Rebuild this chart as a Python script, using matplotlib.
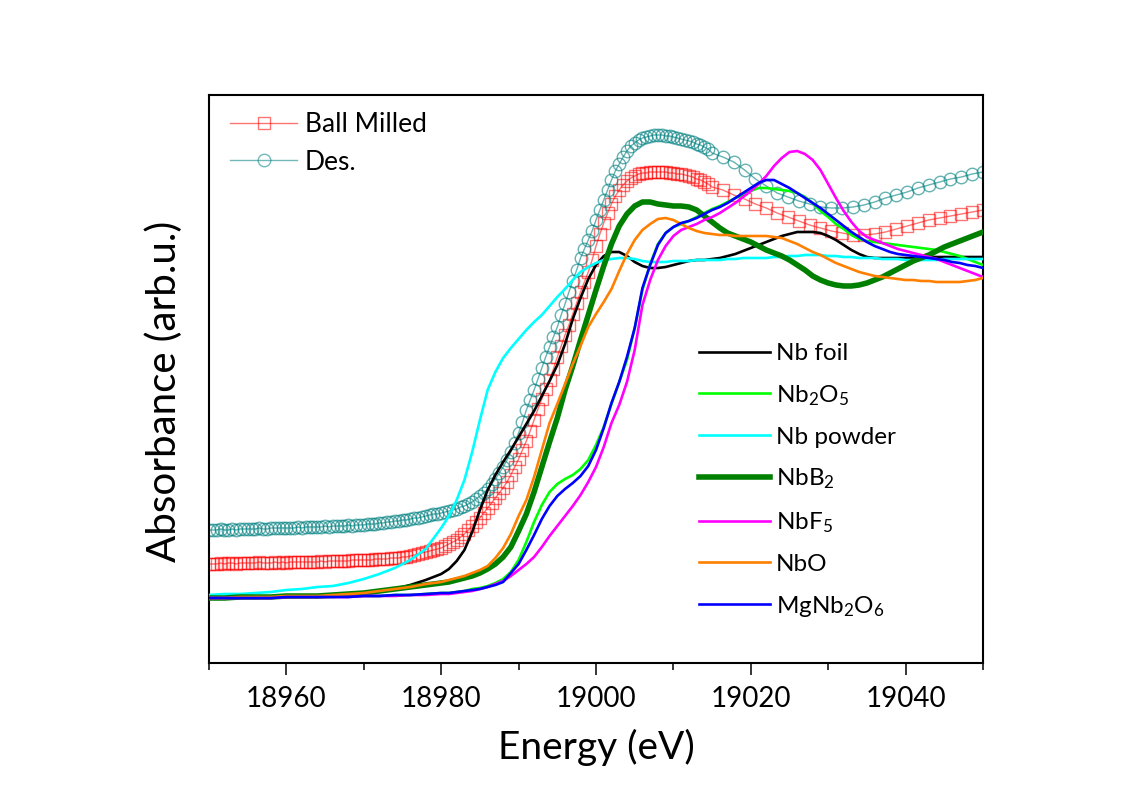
import matplotlib
matplotlib.use('Agg')
import matplotlib.pyplot as plt
import numpy as np
from matplotlib.ticker import MultipleLocator

# energy grids (eV)
energy_lines = np.concatenate([np.arange(18950, 18981, 2), np.arange(18981, 19051)])
energy_mark = np.concatenate([np.arange(18950, 19015, 0.5), 19015 + 1.4 * np.arange(26)])

# ---- sample spectra (offset for clarity) ----
ball_milled = [
    0.34, 0.34, 0.34, 0.35, 0.34, 0.35, 0.35, 0.34, 0.35, 0.35,
    0.35, 0.35, 0.35, 0.36, 0.35, 0.35, 0.35, 0.36, 0.35, 0.36,
    0.35, 0.36, 0.36, 0.36, 0.36, 0.36, 0.36, 0.36, 0.36, 0.37,
    0.36, 0.37, 0.37, 0.37, 0.37, 0.37, 0.37, 0.38, 0.38, 0.38,
    0.38, 0.38, 0.38, 0.39, 0.39, 0.39, 0.39, 0.40, 0.40, 0.40,
    0.41, 0.41, 0.42, 0.43, 0.44, 0.45, 0.46, 0.47, 0.48, 0.49,
    0.50, 0.52, 0.54, 0.56, 0.58, 0.61, 0.64, 0.68, 0.72, 0.76,
    0.80, 0.85, 0.90, 0.95, 1.00, 1.05, 1.10, 1.16, 1.23, 1.31,
    1.39, 1.48, 1.57, 1.67, 1.78, 1.89, 1.99, 2.09, 2.18, 2.29,
    2.41, 2.52, 2.63, 2.73, 2.84, 2.95, 3.06, 3.16, 3.26, 3.38,
    3.52, 3.64, 3.75, 3.85, 3.94, 4.02, 4.08, 4.13, 4.17, 4.20,
    4.22, 4.24, 4.25, 4.25, 4.26, 4.26, 4.26, 4.26, 4.26, 4.25,
    4.25, 4.24, 4.24, 4.23, 4.22, 4.21, 4.19, 4.18, 4.16, 4.14,
    4.11, 4.08, 4.03, 3.99, 3.94, 3.90, 3.85, 3.81, 3.77, 3.73,
    3.70, 3.67, 3.65, 3.63, 3.63, 3.64, 3.66, 3.69, 3.72, 3.75,
    3.78, 3.80, 3.82, 3.84, 3.86, 3.88,
]
des = [
    0.68, 0.68, 0.68, 0.69, 0.68, 0.68, 0.69, 0.68, 0.69, 0.69,
    0.69, 0.69, 0.69, 0.70, 0.69, 0.69, 0.70, 0.70, 0.70, 0.70,
    0.70, 0.70, 0.70, 0.71, 0.70, 0.71, 0.71, 0.71, 0.71, 0.71,
    0.72, 0.71, 0.72, 0.72, 0.72, 0.72, 0.73, 0.72, 0.73, 0.73,
    0.73, 0.74, 0.74, 0.74, 0.75, 0.75, 0.76, 0.76, 0.77, 0.77,
    0.78, 0.78, 0.79, 0.80, 0.80, 0.81, 0.82, 0.83, 0.84, 0.84,
    0.85, 0.86, 0.87, 0.88, 0.89, 0.91, 0.92, 0.94, 0.96, 0.99,
    1.02, 1.05, 1.09, 1.14, 1.19, 1.25, 1.31, 1.38, 1.46, 1.55,
    1.65, 1.76, 1.88, 1.98, 2.08, 2.19, 2.30, 2.41, 2.51, 2.61,
    2.71, 2.83, 2.94, 3.06, 3.17, 3.28, 3.40, 3.49, 3.58, 3.67,
    3.78, 3.88, 3.98, 4.08, 4.18, 4.27, 4.34, 4.41, 4.47, 4.52,
    4.55, 4.58, 4.60, 4.61, 4.62, 4.63, 4.63, 4.63, 4.62, 4.62,
    4.61, 4.60, 4.59, 4.58, 4.57, 4.56, 4.54, 4.53, 4.51, 4.49,
    4.45, 4.41, 4.36, 4.28, 4.19, 4.12, 4.05, 4.01, 3.97, 3.94,
    3.91, 3.90, 3.90, 3.91, 3.93, 3.96, 4.00, 4.03, 4.06, 4.10,
    4.13, 4.16, 4.19, 4.21, 4.24, 4.26,
]

# ---- reference spectra ----
nb_foil = [
    0.00, 0.00, 0.00, 0.01, 0.01, 0.01, 0.02, 0.02, 0.03, 0.04, 0.05, 0.07, 0.09, 0.13, 0.18, 0.24,
    0.29, 0.37, 0.48, 0.66, 0.88, 1.08, 1.23, 1.36, 1.48, 1.61,
    1.74, 1.87, 2.02, 2.17, 2.33, 2.54, 2.79, 3.00, 3.19, 3.33,
    3.42, 3.46, 3.46, 3.42, 3.36, 3.32, 3.30, 3.30, 3.31, 3.33,
    3.35, 3.37, 3.38, 3.38, 3.39, 3.40, 3.42, 3.44, 3.47, 3.50,
    3.53, 3.56, 3.59, 3.62, 3.64, 3.66, 3.66, 3.66, 3.65, 3.62,
    3.58, 3.53, 3.48, 3.44, 3.41, 3.40, 3.40, 3.40, 3.40, 3.40,
    3.40, 3.40, 3.41, 3.41, 3.41, 3.41, 3.41, 3.41, 3.41, 3.41,
]
nb2o5 = [
    0.00, 0.00, 0.00, 0.00, 0.01, 0.01, 0.01, 0.01, 0.01, 0.02, 0.02, 0.02, 0.03, 0.03, 0.04, 0.05,
    0.05, 0.06, 0.07, 0.09, 0.10, 0.12, 0.15, 0.19, 0.26, 0.38,
    0.56, 0.76, 0.93, 1.06, 1.14, 1.19, 1.23, 1.29, 1.38, 1.53,
    1.71, 1.94, 2.16, 2.38, 2.70, 3.08, 3.34, 3.54, 3.65, 3.71,
    3.74, 3.77, 3.81, 3.85, 3.89, 3.92, 3.96, 4.00, 4.03, 4.07,
    4.10, 4.10, 4.09, 4.08, 4.07, 4.05, 4.01, 3.95, 3.87, 3.81,
    3.74, 3.69, 3.63, 3.59, 3.57, 3.56, 3.55, 3.54, 3.53, 3.52,
    3.51, 3.50, 3.49, 3.48, 3.46, 3.44, 3.42, 3.39, 3.36, 3.33,
]
nb_powder = [
    0.03, 0.04, 0.04, 0.05, 0.06, 0.08, 0.09, 0.11, 0.12, 0.15, 0.19, 0.24, 0.30, 0.38, 0.49, 0.70,
    0.82, 0.98, 1.18, 1.46, 1.78, 2.08, 2.26, 2.40, 2.50, 2.59,
    2.68, 2.76, 2.83, 2.92, 3.01, 3.09, 3.18, 3.26, 3.31, 3.35,
    3.38, 3.39, 3.40, 3.40, 3.39, 3.37, 3.36, 3.36, 3.36, 3.37,
    3.37, 3.37, 3.38, 3.38, 3.38, 3.38, 3.39, 3.39, 3.40, 3.40,
    3.40, 3.40, 3.41, 3.41, 3.42, 3.42, 3.43, 3.43, 3.43, 3.42,
    3.42, 3.41, 3.41, 3.40, 3.40, 3.40, 3.39, 3.39, 3.39, 3.38,
    3.38, 3.38, 3.38, 3.38, 3.39, 3.39, 3.39, 3.39, 3.39, 3.39,
]
nbb2 = [
    0.00, 0.00, 0.01, 0.01, 0.01, 0.02, 0.02, 0.02, 0.03, 0.04, 0.05, 0.07, 0.09, 0.11, 0.13, 0.15,
    0.16, 0.18, 0.20, 0.22, 0.25, 0.29, 0.34, 0.41, 0.51, 0.67,
    0.84, 1.06, 1.31, 1.56, 1.80, 2.08, 2.32, 2.58, 2.83, 3.08,
    3.32, 3.54, 3.72, 3.84, 3.92, 3.96, 3.96, 3.94, 3.93, 3.92,
    3.92, 3.91, 3.88, 3.82, 3.76, 3.70, 3.65, 3.62, 3.59, 3.56,
    3.52, 3.48, 3.45, 3.42, 3.38, 3.33, 3.28, 3.22, 3.18, 3.15,
    3.13, 3.12, 3.12, 3.13, 3.15, 3.18, 3.21, 3.25, 3.29, 3.33,
    3.37, 3.40, 3.43, 3.47, 3.51, 3.54, 3.57, 3.60, 3.63, 3.66,
]
nbf5 = [
    0.00, 0.00, 0.00, 0.00, 0.00, 0.01, 0.01, 0.01, 0.01, 0.01, 0.02, 0.02, 0.02, 0.03, 0.03, 0.04,
    0.04, 0.05, 0.06, 0.07, 0.09, 0.11, 0.14, 0.17, 0.22, 0.28,
    0.34, 0.41, 0.51, 0.62, 0.72, 0.82, 0.92, 1.03, 1.16, 1.31,
    1.51, 1.75, 1.93, 2.16, 2.48, 2.93, 3.18, 3.38, 3.52, 3.62,
    3.68, 3.71, 3.74, 3.78, 3.81, 3.85, 3.90, 3.95, 4.01, 4.07,
    4.14, 4.22, 4.32, 4.40, 4.46, 4.47, 4.44, 4.38, 4.28, 4.14,
    4.00, 3.87, 3.76, 3.67, 3.61, 3.58, 3.55, 3.52, 3.49, 3.47,
    3.45, 3.43, 3.41, 3.39, 3.36, 3.33, 3.30, 3.27, 3.24, 3.21,
]
nbo = [
    0.00, 0.00, 0.01, 0.01, 0.01, 0.02, 0.02, 0.02, 0.03, 0.04, 0.05, 0.07, 0.09, 0.11, 0.14, 0.16,
    0.18, 0.20, 0.22, 0.25, 0.28, 0.32, 0.40, 0.50, 0.64, 0.82,
    0.98, 1.21, 1.48, 1.75, 1.94, 2.14, 2.34, 2.52, 2.71, 2.84,
    2.96, 3.09, 3.27, 3.44, 3.58, 3.68, 3.74, 3.79, 3.80, 3.78,
    3.74, 3.70, 3.67, 3.65, 3.64, 3.63, 3.63, 3.62, 3.62, 3.62,
    3.62, 3.62, 3.61, 3.60, 3.57, 3.54, 3.50, 3.46, 3.43, 3.39,
    3.35, 3.32, 3.29, 3.26, 3.24, 3.22, 3.21, 3.20, 3.19, 3.18,
    3.18, 3.17, 3.17, 3.16, 3.16, 3.16, 3.16, 3.17, 3.18, 3.20,
]
mgnb2o6 = [
    0.00, 0.00, 0.00, 0.00, 0.00, 0.01, 0.01, 0.01, 0.01, 0.01, 0.02, 0.02, 0.03, 0.03, 0.04, 0.05,
    0.05, 0.06, 0.07, 0.08, 0.09, 0.11, 0.13, 0.16, 0.25, 0.34,
    0.48, 0.63, 0.79, 0.92, 1.02, 1.09, 1.15, 1.22, 1.32, 1.48,
    1.70, 1.95, 2.16, 2.41, 2.70, 3.10, 3.33, 3.53, 3.65, 3.71,
    3.75, 3.77, 3.80, 3.84, 3.88, 3.91, 3.95, 4.00, 4.05, 4.10,
    4.15, 4.18, 4.18, 4.14, 4.10, 4.05, 4.00, 3.95, 3.90, 3.84,
    3.78, 3.72, 3.66, 3.61, 3.56, 3.52, 3.49, 3.46, 3.44, 3.43,
    3.42, 3.41, 3.40, 3.39, 3.38, 3.36, 3.35, 3.33, 3.32, 3.30,
]

references = [
    ('Nb foil', nb_foil, '#000000', 1.9),
    ('Nb$_2$O$_5$', nb2o5, '#00ff00', 1.9),
    ('Nb powder', nb_powder, '#00ffff', 1.9),
    ('NbB$_2$', nbb2, '#008000', 4.0),
    ('NbF$_5$', nbf5, '#ff00ff', 1.9),
    ('NbO', nbo, '#ff8000', 1.9),
    ('MgNb$_2$O$_6$', mgnb2o6, '#0000ff', 1.9),
]

plt.rcParams['font.family'] = ['Lato', 'DejaVu Sans']
plt.rcParams['mathtext.fontset'] = 'custom'
plt.rcParams['mathtext.rm'] = 'Lato'
plt.rcParams['mathtext.it'] = 'Lato:italic'

fig = plt.figure(figsize=(11.24, 7.89), dpi=100)
ax = fig.add_axes([209 / 1124, 126 / 789, 774 / 1124, 568 / 789])

h_bm, = ax.plot(energy_mark, ball_milled, color='red', alpha=0.55, lw=1.0,
                marker='s', ms=8, mfc='none', mew=1.0, label='Ball Milled', zorder=2)
h_des, = ax.plot(energy_mark, des, color='#008080', alpha=0.6, lw=1.0,
                 marker='o', ms=9, mfc='none', mew=1.0, label='Des.', zorder=2)

ref_handles = []
for name, values, color, lw in references:
    h, = ax.plot(energy_lines, values, color=color, lw=lw, label=name, zorder=3)
    ref_handles.append(h)

ax.set_xlim(18950, 19050)
ax.set_ylim(-0.65, 5.03)
ax.xaxis.set_major_locator(MultipleLocator(20))
ax.xaxis.set_minor_locator(MultipleLocator(10))
ax.tick_params(axis='x', which='major', direction='out', length=8.6, width=1.1,
               labelsize=20, pad=8)
ax.tick_params(axis='x', which='minor', direction='out', length=5, width=1.1)
ax.tick_params(axis='y', which='both', left=False, labelleft=False)
for sp in ax.spines.values():
    sp.set_linewidth(1.5)

ax.set_xlabel('Energy (eV)', fontsize=28, labelpad=12)
ax.set_ylabel('Absorbance (arb.u.)', fontsize=29)
ax.yaxis.set_label_coords(-0.034, 0.478)

leg1 = ax.legend(handles=[h_bm, h_des], loc='upper left',
                 bbox_to_anchor=(230 / 1124, 1 - 112 / 789), bbox_transform=fig.transFigure,
                 frameon=False, fontsize=19, handlelength=2.54, handletextpad=0.3,
                 labelspacing=0.48, borderpad=0, borderaxespad=0)
for lh in leg1.get_lines():
    lh.set_alpha(0.55)
ax.add_artist(leg1)

ax.legend(handles=ref_handles, loc='upper left',
          bbox_to_anchor=(699 / 1124, 1 - 343 / 789), bbox_transform=fig.transFigure,
          frameon=False, fontsize=17.5, handlelength=2.92, handletextpad=0.25,
          labelspacing=0.78, borderpad=0, borderaxespad=0)

fig.savefig('out.png', dpi=100)
